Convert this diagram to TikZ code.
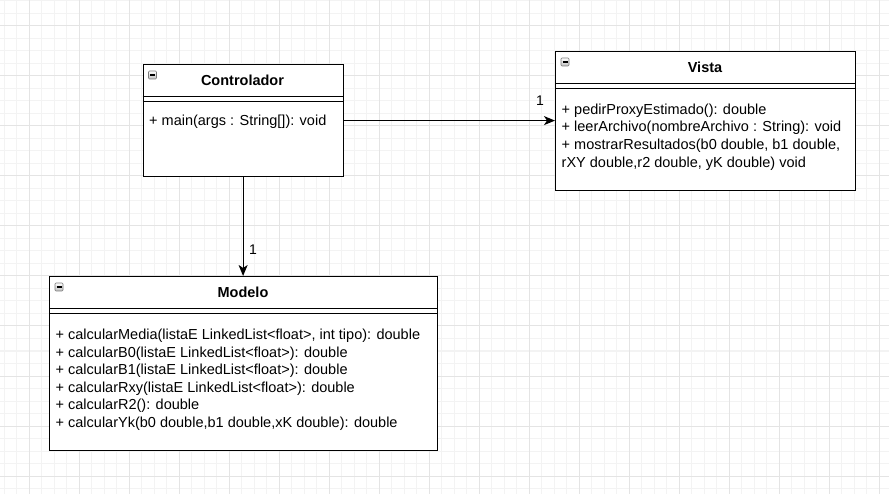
\documentclass[tikz,border=0pt]{standalone}
\usepackage{fontspec}
\setmainfont{Liberation Sans}
\usetikzlibrary{arrows.meta,calc}

\definecolor{gridminor}{HTML}{F3F3F3}
\definecolor{gridmajor}{HTML}{E4E4E4}
\definecolor{iconborder}{HTML}{7A7A7A}

\tikzset{
  classbox/.style={draw=black, line width=1.2pt, fill=white, rectangle,
    inner sep=0pt, anchor=north west},
  classtitle/.style={font=\fontsize{14.5}{17.6}\selectfont\bfseries,
    inner sep=0pt, anchor=base},
  member/.style={font=\fontsize{14.5}{17.6}\selectfont, inner sep=0pt,
    anchor=base west},
  sepline/.style={line width=1.2pt},
  assoc/.style={line width=1.2pt, -{Stealth[length=11pt,width=9pt,inset=3pt]}},
  mult/.style={font=\fontsize{14}{16}\selectfont, inner sep=0pt},
  foldicon/.style={draw=iconborder, line width=0.6pt, rounded corners=1pt,
    top color=white, bottom color=black!25},
}

% a UML class box: #1 name, #2 left, #3 top, #4 width, #5 height, #6 title
\newcommand{\umlclass}[6]{%
  \node[classbox, minimum width=#4pt, minimum height=#5pt] (#1) at (#2,#3) {};
  \draw[sepline] (#2,#3+32.5) -- ++(#4,0);
  \draw[sepline] (#2,#3+37.5) -- ++(#4,0);
  \node[classtitle] (#1-title) at (#2+#4/2,#3+16.5+5.5) {#6};
  \draw[foldicon] (#2+6,#3+7) rectangle ++(8,8);
  \draw[line width=1.1pt] (#2+7.5,#3+11) -- ++(5,0);
}

\begin{document}
\begin{tikzpicture}[x=1pt,y=-1pt]
  \useasboundingbox (0,0) rectangle (889,494);
  \fill[white] (0,0) rectangle (889,494);

  % background grid
  \foreach \gx in {4,16.5,...,889} \draw[gridminor, line width=1pt] (\gx,0) -- (\gx,494);
  \foreach \gy in {1,13.5,...,494} \draw[gridminor, line width=1pt] (0,\gy) -- (889,\gy);
  \foreach \gx in {29,79,...,889} \draw[gridmajor, line width=1pt] (\gx,0) -- (\gx,494);
  \foreach \gy in {26,76,...,494} \draw[gridmajor, line width=1pt] (0,\gy) -- (889,\gy);

  % classes
  \umlclass{ctrl}{142.5}{64}{200}{112}{Controlador}
  \node[member] (ctrl-m1) at (149,125.5) {+ main(args : String[]): void};

  \umlclass{vista}{555}{51}{300}{139}{Vista}
  \node[member] (vista-m1) at (561.5,114.2) {+ pedirProxyEstimado(): double};
  \node[member] (vista-m2) at (561.5,131.9) {+ leerArchivo(nombreArchivo : String): void};
  \node[member] (vista-m3) at (561.5,149.6) {+ mostrarResultados(b0 double, b1 double,};
  \node[member] (vista-m4) at (561.5,167.3) {rXY double,r2 double, yK double) void};

  \umlclass{modelo}{49}{276}{388}{174}{Modelo}
  \node[member] (modelo-m1) at (55.5,339.5) {+ calcularMedia(listaE LinkedList<float>, int tipo): double};
  \node[member] (modelo-m2) at (55.5,357.1) {+ calcularB0(listaE LinkedList<float>): double};
  \node[member] (modelo-m3) at (55.5,374.7) {+ calcularB1(listaE LinkedList<float>): double};
  \node[member] (modelo-m4) at (55.5,392.3) {+ calcularRxy(listaE LinkedList<float>): double};
  \node[member] (modelo-m5) at (55.5,409.9) {+ calcularR2(): double};
  \node[member] (modelo-m6) at (55.5,427.5) {+ calcularYk(b0 double,b1 double,xK double): double};

  % associations
  \draw[assoc] (ctrl.south) -- (ctrl.south |- modelo.north);
  \node[mult] (mult-modelo) at (253,250) {1};
  \draw[assoc] (ctrl.east) -- (ctrl.east -| vista.west);
  \node[mult] (mult-vista) at (540,101) {1};
\end{tikzpicture}
\end{document}
